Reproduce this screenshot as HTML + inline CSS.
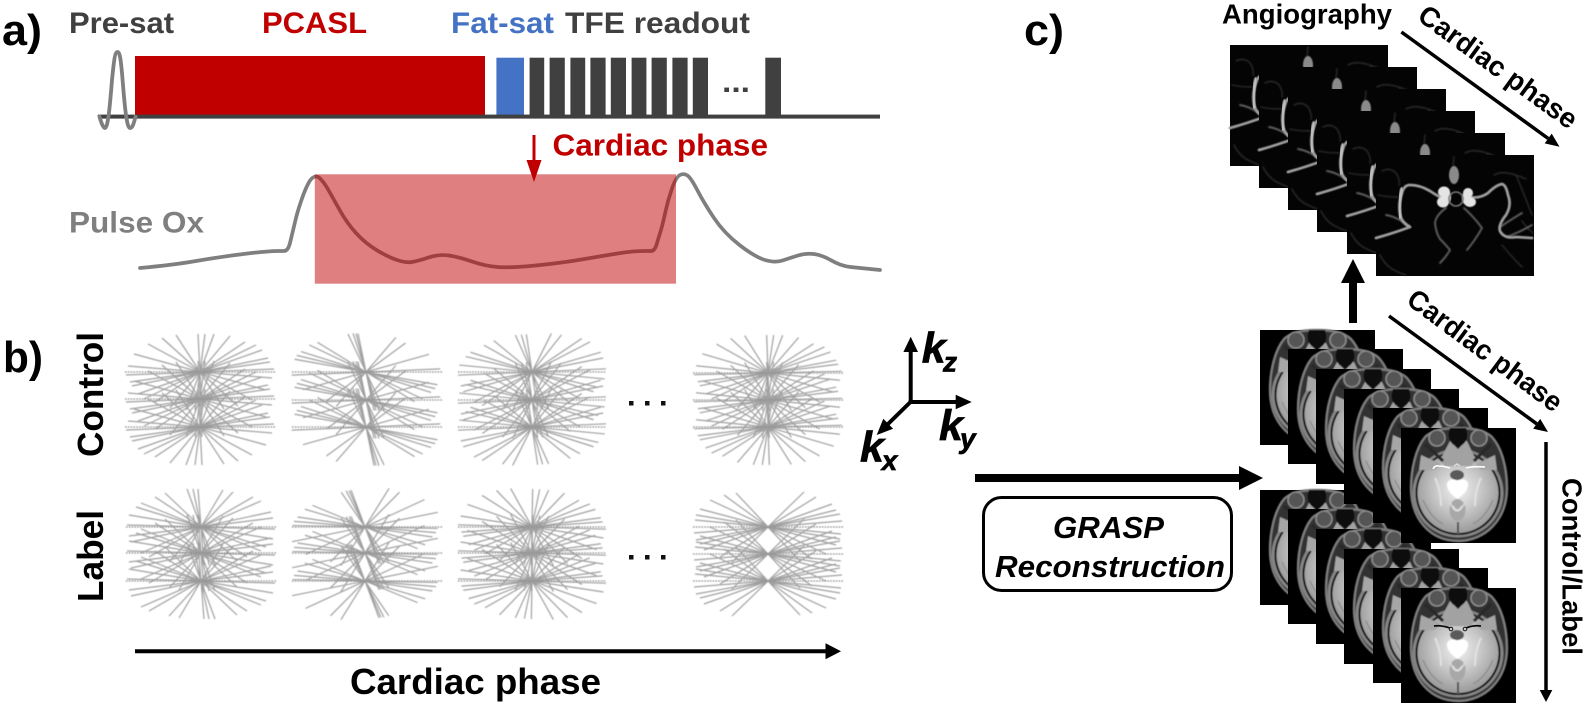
<!DOCTYPE html>
<html>
<head>
<meta charset="utf-8">
<title>PCASL GRASP diagram</title>
<style>
html,body{margin:0;padding:0;background:#fff;width:1589px;height:708px;overflow:hidden}
svg{display:block}
text{font-family:"Liberation Sans",Arial,sans-serif;font-weight:bold}
.i{font-style:italic}
</style>
</head>
<body>
<svg width="1589" height="708" viewBox="0 0 1589 708" xmlns="http://www.w3.org/2000/svg">
<defs>
  <radialGradient id="bg" cx="50%" cy="45%" r="55%">
    <stop offset="0" stop-color="#f2f2f2"/>
    <stop offset=".5" stop-color="#c9c9c9"/>
    <stop offset="1" stop-color="#9a9a9a"/>
  </radialGradient>
  <filter id="bl" x="-10%" y="-10%" width="120%" height="120%"><feGaussianBlur stdDeviation=".45"/></filter>
  <filter id="bl2" x="-20%" y="-20%" width="140%" height="140%"><feGaussianBlur stdDeviation=".7"/></filter>

  <!-- k-space stars -->
  <path id="sA" d="M-70 10L70-10M-72-6L72 6M-74 3L74-3M-68 14L68-14M-66-18L66 18M-62 22L62-22M-56 27L56-27M-52-28L52 28M-45 30L45-30M-38-34L38 34M-30 36L30-36M-14 38L14-38M-24-37L24 37M-5 38L5-38M-2-38L2 38"/>
  <path id="sB" d="M-74 7L74-7M-72-9L72 9M-70-13L70 13M-66-17L66 17M-62 21L62-21M-58-24L58 24M-50-27L50 27M-38 31L38-31M-28 36L28-36M-15-38L15 38M-12-38L12 38M-10-38L10 38M-20-37L20 37"/>
  <path id="sC" d="M-72 9L72-9M-72-12L72 12M-74-2L74 2M-70 15L70-15M-65-20L65 20M-60 26L60-26M-60-24L60 24M-52 30L52-30M-46-30L46 30M-36-34L36 34M-32 35L32-35M-22 37L22-37M-14-38L14 38M-8-38L8 38M-3-38L3 38"/>
  <path id="sD" d="M-74 6L74-6M-73-7L73 7M-72 13L72-13M-72-12L72 12M-68-18L68 18M-68 17L68-17M-64 23L64-23M-58-27L58 27M-48 30L48-30M-44-32L44 32M-36 35L36-35M-32-34L32 34"/>

  <!-- angiography slice -->
  <g id="angio">
    <rect width="158" height="121" fill="#040404"/>
    <g fill="none" stroke-linecap="round" stroke-linejoin="round">
      <path filter="url(#bl2)" d="M78 2L77 12M6 16Q14 12 20 18Q24 24 23 30M2 40Q10 42 22 42M4 100Q10 112 20 116Q26 119 30 120M140 20Q146 34 156 60M146 66Q150 72 157 78M118 20Q128 14 150 24M126 90Q134 100 146 112" stroke="#2b2b2b" stroke-width="1.4"/>
      <path filter="url(#bl2)" d="M70 53Q60 60 59 68Q60 78 64 84Q70 90 74 95Q70 102 64 108M88 53Q98 62 106 73Q100 84 91 95M34 72Q22 62 10 60M124 72Q136 64 146 58M131 82Q146 76 156 70" stroke="#6a6a6a" stroke-width="1.7"/>
      <path filter="url(#bl)" d="M0 83Q18 78 34 72Q26 68 24 60Q22 48 26 38Q28 30 34 30Q44 30 54 36Q60 40 64 42M92 42Q104 44 112 38Q120 30 126 29Q130 30 132 40Q136 50 130 60Q122 70 124 76Q128 84 140 82L156 83" stroke="#9c9c9c" stroke-width="2.8"/>
      <path filter="url(#bl)" d="M26 34Q22 48 24 62" stroke="#bdbdbd" stroke-width="3.6"/>
    </g>
    <ellipse cx="78" cy="20" rx="5" ry="9" fill="#8a8a8a" filter="url(#bl)"/>
    <g fill="#e4e4e4" filter="url(#bl)">
      <ellipse cx="68" cy="37" rx="6" ry="5.5"/><ellipse cx="67" cy="47" rx="6" ry="5.5"/><ellipse cx="72" cy="42" rx="3" ry="6"/>
      <ellipse cx="92" cy="38" rx="5" ry="5"/><ellipse cx="94" cy="47" rx="6" ry="5"/><ellipse cx="89" cy="43" rx="3" ry="6"/>
    </g>
    <circle cx="80" cy="44" r="7" fill="none" stroke="#777" stroke-width="1.6" filter="url(#bl)"/>
  </g>

  <!-- MRI slice base -->
  <g id="brain">
    <rect width="115" height="115" fill="#000"/>
    <g filter="url(#bl)">
      <path d="M57 0C72 0 84 2 91 9C101 20 106 40 106 60C106 92 84 113 57 113C30 113 10 92 10 60C10 40 15 20 24 9C31 2 42 0 57 0Z" fill="#303030" stroke="#7d7d7d" stroke-width="2.4"/>
      <ellipse cx="57" cy="65" rx="45.5" ry="44.5" fill="#858585"/>
      <ellipse cx="57" cy="65" rx="42.5" ry="42" fill="#0c0c0c"/>
      <ellipse cx="57" cy="65" rx="40.5" ry="40" fill="url(#bg)"/>
      <path d="M20 27L40 36L34 42L18 42Z" fill="#a6a6a6"/>
      <path d="M94 27L75 36L80 42L96 42Z" fill="#a6a6a6"/>
      <path d="M39 32L49 13H66L75 32L70 38H44Z" fill="#a2a2a2"/>
      <path d="M24 16L42 33M90 16L73 33" stroke="#2a2a2a" stroke-width="3.2" fill="none"/>
      <path d="M49 0H65C67 6 67 13 61 17L57 21L53 17C47 13 47 6 49 0Z" fill="#070707"/>
      <circle cx="36" cy="10" r="8" fill="#555" stroke="#8c8c8c" stroke-width="1.6"/>
      <circle cx="78" cy="10" r="8" fill="#555" stroke="#8c8c8c" stroke-width="1.6"/>
      <ellipse cx="56" cy="47" rx="7" ry="5" fill="#5a5a5a"/>
      <path d="M46 55C49 50 54 51 56.5 53C59 51 65 50 67 55C68 62 61 68 56.5 71C52 68 45 62 46 55Z" fill="#fff"/>
      <ellipse cx="56.5" cy="82" rx="8" ry="11" fill="#a8a8a8"/>
      <path d="M49 74Q56 92 64 74M52 78Q56 86 61 78" fill="none" stroke="#dcdcdc" stroke-width="1.4"/>
      <path d="M57 94V106" stroke="#555" stroke-width="2"/>
      <path d="M22 72Q30 90 42 96M92 72Q84 90 72 96" fill="none" stroke="#8e8e8e" stroke-width="1.4"/>
      <path d="M34 50Q40 62 40 78M80 50Q74 62 74 78" fill="none" stroke="#e2e2e2" stroke-width="2"/>
    </g>
  </g>
  <g id="v1">
    <path d="M32 41Q34 37 38 38Q42 38 49 40M65 40Q72 38 84 39" fill="none" stroke="#fff" stroke-width="1.6"/>
    <path d="M53 38L56 36L59 38" fill="none" stroke="#ddd" stroke-width="1.4"/>
  </g>
  <g id="v2">
    <path d="M33 38Q40 37 49 40M65 40Q72 37 80 38" fill="none" stroke="#0c0c0c" stroke-width="1.7"/>
    <circle cx="50" cy="41" r="1.8" fill="none" stroke="#111"/><circle cx="64" cy="41" r="1.8" fill="none" stroke="#111"/>
  </g>
</defs>

<rect width="1589" height="708" fill="#fff"/>

<!-- panel a -->
<text x="2" y="45" font-size="44" textLength="40" lengthAdjust="spacingAndGlyphs">a)</text>
<text x="69" y="33" font-size="30" fill="#404040" textLength="105" lengthAdjust="spacingAndGlyphs">Pre-sat</text>
<text x="262" y="33" font-size="30" fill="#c00000" textLength="105" lengthAdjust="spacingAndGlyphs">PCASL</text>
<text x="451" y="33" font-size="30" fill="#4472c4" textLength="103" lengthAdjust="spacingAndGlyphs">Fat-sat</text>
<text x="565" y="33" font-size="30" fill="#404040" textLength="185" lengthAdjust="spacingAndGlyphs">TFE readout</text>

<rect x="135" y="56" width="350" height="60" fill="#c00000"/>
<rect x="496.4" y="57.7" width="27.6" height="58" fill="#4472c4"/>
<g fill="#404040">
  <rect x="529.6" y="57.7" width="14.6" height="58"/>
  <rect x="549.6" y="57.7" width="15.2" height="58"/>
  <rect x="570.4" y="57.7" width="14.8" height="58"/>
  <rect x="590.4" y="57.7" width="15.2" height="58"/>
  <rect x="610.8" y="57.7" width="15.2" height="58"/>
  <rect x="631.6" y="57.7" width="14.8" height="58"/>
  <rect x="651.6" y="57.7" width="15.2" height="58"/>
  <rect x="672.4" y="57.7" width="15.2" height="58"/>
  <rect x="692.8" y="57.7" width="15.2" height="58"/>
  <rect x="765.3" y="57.7" width="15.7" height="58"/>
  <rect x="98" y="114.6" width="782" height="4"/>
</g>
<text x="722" y="92" font-size="30" fill="#404040" textLength="28" lengthAdjust="spacingAndGlyphs">...</text>
<path d="M99 115C101 122 103 128 105 128C108 128 110 105 112 80C114 60 115 52 117.5 52C120 52 121 60 123 85C125 110 127 128 130 128C133 128 134 122 136 115" fill="none" stroke="#7f7f7f" stroke-width="3.8"/>

<path d="M534 135V162" stroke="#c00000" stroke-width="3" fill="none"/>
<polygon points="526.5,160 541.5,160 534,182" fill="#c00000"/>
<text x="552.5" y="155.7" font-size="31" fill="#c00000" textLength="215.5" lengthAdjust="spacingAndGlyphs">Cardiac phase</text>
<text x="69" y="232.7" font-size="30" fill="#7f7f7f" textLength="135" lengthAdjust="spacingAndGlyphs">Pulse Ox</text>

<path fill="none" stroke="#7f7f7f" stroke-width="3.7" stroke-linejoin="round" stroke-linecap="round" d="M140 268Q173 265 196 261Q219 257 243.5 254Q268 251 278 251L284 251Q288 251 290 243L296 218Q298 210 302 198.5Q306 187 310 180.5Q315 174 319.5 178Q324 182 329 191Q334 200 340.5 211.5Q347 223 356 233Q365 243 376.5 250Q388 257 397 260Q406 263 412 262Q418 261 428.5 257.5Q439 254 449 255.5Q459 257 472 261.5Q485 266 497.5 267Q510 268 535.5 265.5Q561 263 581.5 259.5Q602 256 617.5 253.5Q633 251 644 251L651 251Q655 251 657 243L661 230Q663 223 665.5 211.5Q668 200 672 188.5Q676 177 680 175Q684 173 687.5 175.5Q691 178 697.5 190.5Q704 203 714 218Q724 233 739.5 245Q755 257 765 260Q775 263 782.5 260.5Q790 258 798 255.5Q806 253 814 254Q822 255 831.5 260.5Q841 266 850.5 267Q860 268 880 270"/>
<rect x="314.8" y="174.3" width="361.2" height="109.4" fill="#c00000" fill-opacity=".5"/>

<!-- panel b -->
<text x="3" y="372" font-size="44" textLength="40" lengthAdjust="spacingAndGlyphs">b)</text>
<text transform="translate(103,457) rotate(-90)" font-size="36" textLength="125" lengthAdjust="spacingAndGlyphs">Control</text>
<text transform="translate(103,602) rotate(-90)" font-size="36" textLength="92" lengthAdjust="spacingAndGlyphs">Label</text>

<g fill="none" stroke="#a0a0a0" stroke-width="1.2" filter="url(#bl)">
  <!-- control row -->
  <use href="#sA" transform="translate(200,372)"/><use href="#sA" transform="translate(200,399)"/><use href="#sA" transform="translate(200,427)"/>
  <use href="#sB" transform="translate(366,372) rotate(3)"/><use href="#sB" transform="translate(366,400) rotate(3)"/><use href="#sB" transform="translate(366,427) rotate(3)"/>
  <use href="#sC" transform="translate(532,372) rotate(-4)"/><use href="#sC" transform="translate(532,400) rotate(-4)"/><use href="#sC" transform="translate(532,427) rotate(-4)"/>
  <use href="#sA" transform="translate(768,373) rotate(1)"/><use href="#sA" transform="translate(768,400) rotate(1)"/><use href="#sA" transform="translate(768,427) rotate(1)"/>
  <!-- label row -->
  <use href="#sC" transform="translate(201,527)"/><use href="#sC" transform="translate(201,553)"/><use href="#sC" transform="translate(201,581)"/>
  <use href="#sB" transform="translate(365,527) rotate(-6)"/><use href="#sB" transform="translate(365,553) rotate(-6)"/><use href="#sB" transform="translate(365,581) rotate(-6)"/>
  <use href="#sA" transform="translate(532,527) rotate(4)"/><use href="#sA" transform="translate(532,553) rotate(4)"/><use href="#sA" transform="translate(532,581) rotate(4)"/>
  <use href="#sD" transform="translate(768,527)"/><use href="#sD" transform="translate(768,554)"/><use href="#sD" transform="translate(768,581)"/>
</g>
<g fill="none" stroke="#8c8c8c" stroke-width="1.3" stroke-dasharray="1.6 1.2" filter="url(#bl)">
  <path d="M125 372H275M125 399H275M125 427H275M292 372H442M292 400H442M292 427H442M458 372H606M458 400H606M458 427H606M693 373H843M693 400H843M693 427H843"/>
  <path d="M292 527H442M292 553H442M292 581H442M458 527H606M458 553H606M458 581H606M693 527H843M693 554H843M693 581H843M126 527H276M126 553H276M126 581H276"/>
</g>

<g fill="#111">
  <rect x="629" y="401" width="4.5" height="4.5"/><rect x="645" y="401" width="4.5" height="4.5"/><rect x="661" y="401" width="4.5" height="4.5"/>
  <rect x="629" y="555" width="4.5" height="4.5"/><rect x="645" y="555" width="4.5" height="4.5"/><rect x="661" y="555" width="4.5" height="4.5"/>
</g>

<!-- k axes -->
<g stroke="#000" stroke-width="4" fill="none">
  <path d="M910.7 404V350"/><path d="M908.7 402H957"/><path d="M911.5 401L888 424"/>
</g>
<polygon points="903.4,352 918,352 910.7,336.7" fill="#000"/>
<polygon points="955.7,394.7 955.7,409.3 971.7,402" fill="#000"/>
<polygon points="893.1,428.8 883.3,418.8 876.7,435" fill="#000"/>
<g stroke="#000" stroke-width=".7">
<text class="i" x="921.7" y="362.7" font-size="43">k</text>
<text class="i" x="943" y="371.7" font-size="28">z</text>
<text class="i" x="939" y="440" font-size="43">k</text>
<text class="i" x="960" y="448" font-size="28">y</text>
<text class="i" x="860" y="461.7" font-size="43">k</text>
<text class="i" x="881.7" y="470" font-size="28">x</text>
</g>

<!-- bottom arrow -->
<path d="M135 651.3H827" stroke="#000" stroke-width="4"/>
<polygon points="825.5,643.3 825.5,659.3 841,651.3" fill="#000"/>
<text x="350" y="694" font-size="36" textLength="251" lengthAdjust="spacingAndGlyphs">Cardiac phase</text>

<!-- GRASP -->
<path d="M975 478H1240" stroke="#000" stroke-width="8"/>
<polygon points="1239,466 1239,490 1263,478" fill="#000"/>
<rect x="983.5" y="497.5" width="248" height="93" rx="18" ry="18" fill="#fff" stroke="#000" stroke-width="3"/>
<text class="i" x="1053" y="538" font-size="31" textLength="111" lengthAdjust="spacingAndGlyphs">GRASP</text>
<text class="i" x="995" y="577" font-size="31" textLength="230" lengthAdjust="spacingAndGlyphs">Reconstruction</text>

<!-- panel c -->
<text x="1024" y="45" font-size="44" textLength="40" lengthAdjust="spacingAndGlyphs">c)</text>
<text x="1222" y="23.5" font-size="28" textLength="170" lengthAdjust="spacingAndGlyphs">Angiography</text>
<text transform="translate(1416,19) rotate(36)" font-size="28" textLength="189" lengthAdjust="spacingAndGlyphs">Cardiac phase</text>
<path d="M1401.4 32L1548.2 138.5" stroke="#000" stroke-width="3.5"/>
<polygon points="1544.7,143.4 1551.7,133.6 1559.5,146.7" fill="#000"/>

<use href="#angio" x="1230" y="45"/>
<use href="#angio" x="1259" y="67"/>
<use href="#angio" x="1288" y="89"/>
<use href="#angio" x="1317" y="111"/>
<use href="#angio" x="1347" y="133"/>
<use href="#angio" x="1376" y="155"/>

<path d="M1353 323V281" stroke="#000" stroke-width="8"/>
<polygon points="1341,283 1365,283 1353,259" fill="#000"/>

<text transform="translate(1405,303) rotate(36.5)" font-size="28" textLength="185" lengthAdjust="spacingAndGlyphs">Cardiac phase</text>
<path d="M1389 316L1536.7 423.8" stroke="#000" stroke-width="3.5"/>
<polygon points="1533.2,428.7 1540.2,418.9 1548,432" fill="#000"/>

<!-- lower stack -->
<use href="#brain" x="1260" y="490"/>
<use href="#brain" x="1288" y="509"/>
<use href="#brain" x="1316" y="529"/>
<use href="#brain" x="1344" y="549"/>
<use href="#brain" x="1373" y="568"/>
<use href="#brain" x="1401" y="588"/>
<use href="#v2" x="1401" y="588"/>
<!-- upper stack -->
<use href="#brain" x="1260" y="330"/>
<use href="#brain" x="1288" y="349"/>
<use href="#brain" x="1316" y="369"/>
<use href="#brain" x="1344" y="389"/>
<use href="#brain" x="1373" y="408"/>
<use href="#brain" x="1401" y="428"/>
<use href="#v1" x="1401" y="428"/>

<path d="M1546 442V692" stroke="#000" stroke-width="3.5"/>
<polygon points="1539.7,690 1552.3,690 1546,702" fill="#000"/>
<text transform="translate(1562.7,478) rotate(90)" font-size="28" textLength="177" lengthAdjust="spacingAndGlyphs">Control/Label</text>
</svg>
</body>
</html>
